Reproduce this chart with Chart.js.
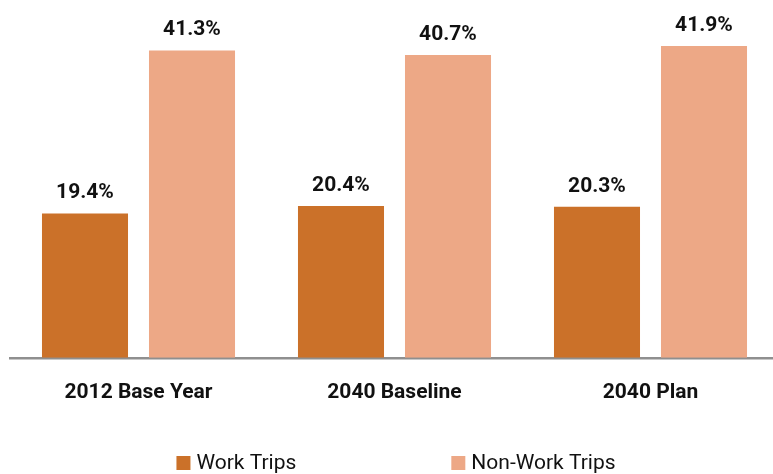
<!DOCTYPE html>
<html>
<head>
<meta charset="utf-8">
<script src="https://cdn.jsdelivr.net/npm/chart.js@4/dist/chart.umd.min.js"></script>
<style>
  html, body { margin: 0; padding: 0; background: #fff; overflow: hidden; }
  #wrap { width: 780px; height: 474px; }
</style>
</head>
<body>
<div id="wrap"><canvas id="myChart" width="780" height="474"></canvas></div>
<script>
var categories = ['2012 Base Year', '2040 Baseline', '2040 Plan'];
var workTrips = [19.4, 20.4, 20.3];
var nonWorkTrips = [41.3, 40.7, 41.9];
var seriesNames = ['Work Trips', 'Non-Work Trips'];
var seriesColors = ['#CB7129', '#EDA886'];

var fontName = 'Roboto, "DejaVu Sans", sans-serif';

// value labels above each bar
var valueLabels = {
    id: 'valueLabels',
    afterDatasetsDraw: function (chart) {
        var ctx = chart.ctx;
        ctx.save();
        ctx.font = 'bold 21px ' + fontName;
        ctx.fillStyle = '#111';
        ctx.textAlign = 'center';
        ctx.textBaseline = 'alphabetic';
        chart.data.datasets.forEach(function (ds, i) {
            chart.getDatasetMeta(i).data.forEach(function (bar, j) {
                ctx.fillText(ds.data[j].toFixed(1) + '%', bar.x, bar.y - 15);
            });
        });
        ctx.restore();
    }
};

// legend with wide spacing between the two items
var wideLegend = {
    id: 'wideLegend',
    afterDraw: function (chart) {
        var ctx = chart.ctx;
        var box = 14, textGap = 6, itemGap = 155, centerX = 396, y = 463;
        ctx.save();
        ctx.font = '21px ' + fontName;
        var widths = chart.data.datasets.map(function (ds) {
            return box + textGap + ctx.measureText(ds.label).width;
        });
        var total = widths[0] + itemGap + widths[1];
        var x = centerX - total / 2;
        ctx.textBaseline = 'middle';
        ctx.textAlign = 'left';
        chart.data.datasets.forEach(function (ds, i) {
            ctx.fillStyle = ds.backgroundColor;
            ctx.fillRect(x, y - box / 2, box, box);
            ctx.fillStyle = '#111';
            ctx.fillText(ds.label, x + box + textGap, y + 1);
            x += widths[i] + itemGap;
        });
        ctx.restore();
    }
};

new Chart('myChart', {
    type: 'bar',
    data: {
        labels: categories,
        datasets: [
            { label: seriesNames[0], data: workTrips, backgroundColor: seriesColors[0] },
            { label: seriesNames[1], data: nonWorkTrips, backgroundColor: seriesColors[1] }
        ]
    },
    options: {
        responsive: false,
        animation: false,
        events: [],
        categoryPercentage: 0.836,
        barPercentage: 0.804,
        layout: { padding: { left: 10.5, right: 1.5, top: 8, bottom: 46 } },
        plugins: {
            legend: { display: false },
            tooltip: { enabled: false }
        },
        scales: {
            x: {
                z: 1,
                grid: { display: false, drawTicks: false },
                border: { display: true, color: '#8f8f8f', width: 2.5 },
                ticks: {
                    padding: 22.5,
                    color: '#111',
                    font: { family: fontName, size: 21, weight: 'bold' }
                }
            },
            y: {
                display: false,
                min: 0,
                max: 47
            }
        }
    },
    plugins: [valueLabels, wideLegend]
});
</script>
</body>
</html>
